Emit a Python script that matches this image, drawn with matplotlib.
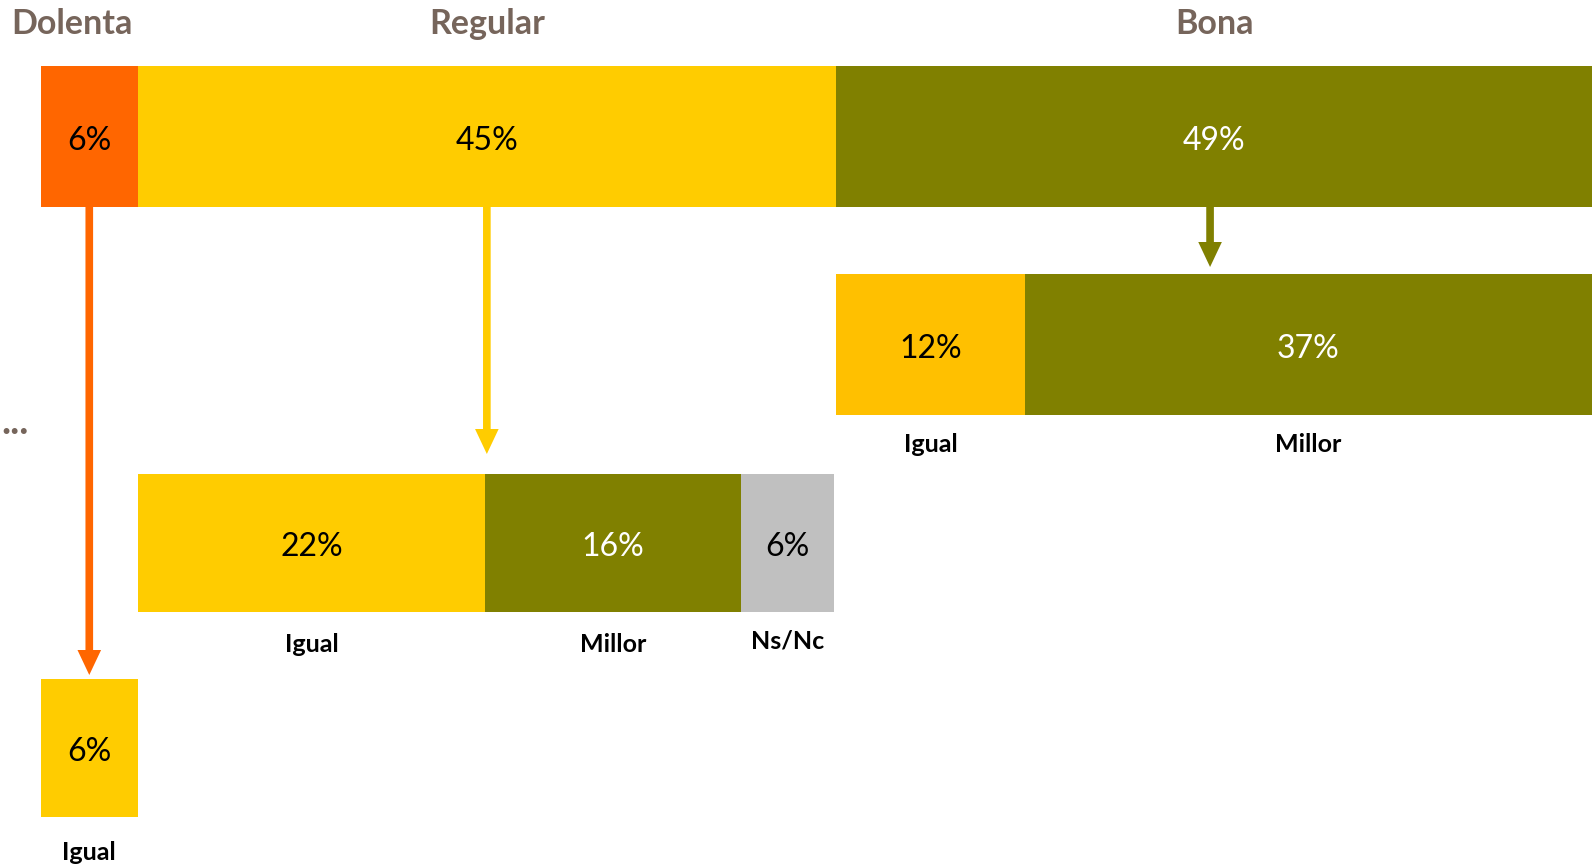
import numpy as np
import matplotlib.pyplot as plt

# Estat de salut (fila superior)
top_labels = ['Dolenta', 'Regular', 'Bona']
top_values = [6.19, 44.78, 49.03]
top_colors = ['#FF6600', '#FFCC00', '#808000']

# Evolucio de cada grup
dolenta_labels = ['Igual']
dolenta_values = [6.19]
dolenta_colors = ['#FFCC00']

regular_labels = ['Igual', 'Millor', 'Ns/Nc']
regular_values = [22.3, 16.35, 5.99]
regular_colors = ['#FFCC00', '#808000', '#C0C0C0']

bona_labels = ['Igual', 'Millor']
bona_values = [12.1, 36.9]
bona_colors = ['#FFC000', '#808000']

W, H = 1592, 868
PX_PER_PCT = 15.6
X0_PX = 41

HEAD_COLOR = '#76655B'
FAM = ['Lato', 'DejaVu Sans']
NUM_FONT = dict(family=FAM, weight='normal', fontsize=23)
LAB_FONT = dict(family=FAM, weight='bold', fontsize=18)
HEAD_FONT = dict(family=FAM, weight='bold', fontsize=24.5)

fig = plt.figure(figsize=(W / 100, H / 100), dpi=100)
ax = fig.add_axes([0, 0, 1, 1])
xmin, xmax = -X0_PX / PX_PER_PCT, (W - X0_PX) / PX_PER_PCT
ax.set_xlim(xmin, xmax)
ax.set_ylim(H, 0)
ax.axis('off')


def draw_row(values, colors, start, y_top, y_bot, labels=None, label_y=None):
    values = np.asarray(values)
    lefts = start + np.concatenate([[0], np.cumsum(values)[:-1]])
    ax.barh((y_top + y_bot) / 2, values, left=lefts, height=y_bot - y_top,
            color=colors, linewidth=0)
    centers = []
    for i, v in enumerate(values):
        right = min(lefts[i] + v, xmax)
        cx = (lefts[i] + right) / 2
        centers.append(cx)
        tc = 'white' if colors[i] == '#808000' else 'black'
        # text sits a little below the middle, as in the original
        ax.text(cx, (y_top + y_bot) / 2 + 4, f'{v:.0f}%', ha='center', va='center',
                color=tc, **NUM_FONT)
        if labels is not None:
            ax.text(cx, label_y[i], labels[i], ha='center', va='center',
                    color='black', **LAB_FONT)
    return lefts, centers


def arrow(x, y0, y1, color):
    ax.annotate('', xy=(x, y1), xytext=(x, y0),
                arrowprops=dict(arrowstyle='simple,head_width=17,head_length=18,tail_width=5.5',
                                color=color, lw=0, shrinkA=0, shrinkB=0,
                                mutation_scale=1))


# fila superior
top_lefts, top_centers = draw_row(top_values, top_colors, 0, 66, 207)
for i, name in enumerate(top_labels):
    if i == 0:
        ax.text(xmin + 11 / PX_PER_PCT, 24, name, ha='left', va='center',
                color=HEAD_COLOR, **HEAD_FONT)
    else:
        ax.text(top_centers[i], 24, name, ha='center', va='center',
                color=HEAD_COLOR, **HEAD_FONT)

# subfiles
draw_row(bona_values, bona_colors, top_lefts[2], 274, 415,
         bona_labels, [444, 444])
draw_row(regular_values, regular_colors, top_lefts[1], 474, 612,
         regular_labels, [644, 644, 641])
draw_row(dolenta_values, dolenta_colors, top_lefts[0], 679, 817,
         dolenta_labels, [852])

# fletxes
arrow(top_centers[0], 207, 675, top_colors[0])
arrow(top_centers[1], 207, 454, top_colors[1])
arrow(top_centers[2] - 4 / PX_PER_PCT, 207, 267, top_colors[2])

# etiqueta de l'esquerra (punts suspensius)
ax.text(xmin + 1 / PX_PER_PCT, 422, '...', ha='left', va='center',
        color=HEAD_COLOR, family=FAM, weight='bold', fontsize=28)

fig.savefig('out.png', dpi=100)
